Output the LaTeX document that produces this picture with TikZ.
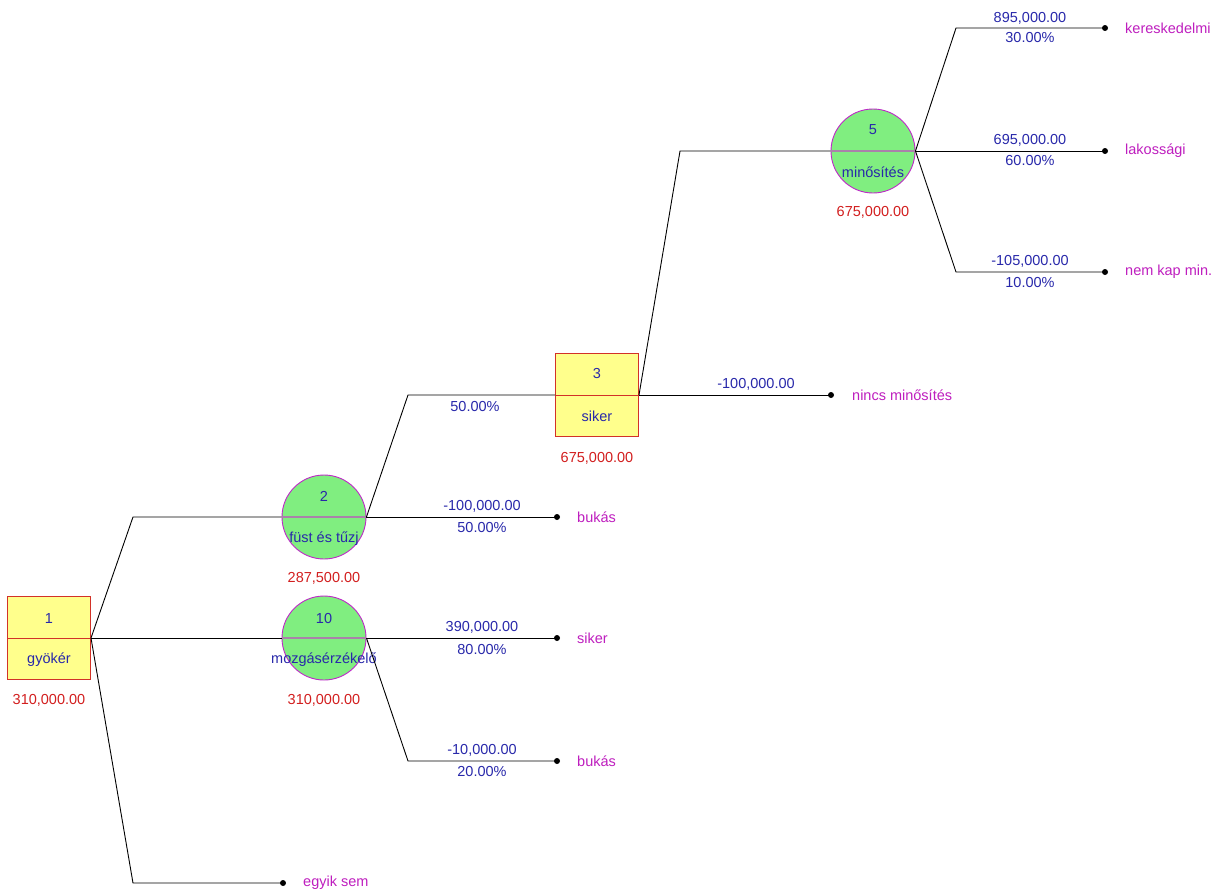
\documentclass[tikz,border=0pt]{standalone}
\usepackage{fontspec}
\setmainfont{Liberation Sans}
\definecolor{boxyellow}{RGB}{255,255,140}
\definecolor{boxred}{RGB}{210,50,40}
\definecolor{circgreen}{RGB}{128,238,128}
\definecolor{circpurple}{RGB}{190,40,200}
\definecolor{divgray}{RGB}{170,130,170}
\definecolor{txtblue}{RGB}{40,40,170}
\definecolor{valred}{RGB}{210,30,30}
\definecolor{termmag}{RGB}{190,30,190}
\begin{document}
\begin{tikzpicture}[x=1pt,y=-1pt,
  every node/.style={font=\fontsize{14.5}{16}\selectfont, inner sep=0pt},
  decbox/.style={rectangle, draw=boxred, fill=boxyellow, line width=1pt, minimum width=83pt, minimum height=83pt},
  chance/.style={circle, draw=circpurple, fill=circgreen, line width=0.9pt, minimum size=84pt},
  lbl/.style={text=txtblue},
  val/.style={text=valred},
  term/.style={text=termmag, anchor=west},
  edge/.style={draw=black, line width=0.9pt},
  dot/.style={fill=black}
]
\useasboundingbox (0,0) rectangle (1217,895);

% nodes
\node[decbox] (n1) at (49,638) {};
\node[chance] (n2) at (324,517) {};
\node[chance] (n10) at (324,638) {};
\node[decbox] (n3) at (597,395) {};
\node[chance] (n5) at (873,151) {};

% dividers
\draw[boxred, line width=1pt] (n1.west) -- (n1.east);
\draw[boxred, line width=1pt] (n3.west) -- (n3.east);
\draw[divgray, line width=1.2pt] (n2.west) -- (n2.east);
\draw[divgray, line width=1.2pt] (n10.west) -- (n10.east);
\draw[divgray, line width=1.2pt] (n5.west) -- (n5.east);

% node texts
\node[lbl] (n1num) at (49,618) {1};
\node[lbl] (n1name) at (49,660) {gyökér};
\node[val] (n1val) at (49,700) {310,000.00};
\node[lbl] (n2num) at (324,496) {2};
\node[lbl] (n2name) at (324,539) {füst és tűzj};
\node[val] (n2val) at (324,578) {287,500.00};
\node[lbl] (n10num) at (324,618) {10};
\node[lbl] (n10name) at (324,660) {mozgásérzékelő};
\node[val] (n10val) at (324,700) {310,000.00};
\node[lbl] (n3num) at (597,373) {3};
\node[lbl] (n3name) at (597,416) {siker};
\node[val] (n3val) at (597,458) {675,000.00};
\node[lbl] (n5num) at (873,130) {5};
\node[lbl] (n5name) at (873,172) {minősítés};
\node[val] (n5val) at (873,212) {675,000.00};

% bend points and terminals
\coordinate (b12) at (133,517);
\coordinate (b1e) at (133,883);
\coordinate (t1e) at (283,883);
\coordinate (b23) at (408,395);
\coordinate (t2b) at (557,517);
\coordinate (t10s) at (557,638);
\coordinate (b10b) at (408,761);
\coordinate (t10b) at (557,761);
\coordinate (b35) at (680,151);
\coordinate (t3n) at (831,395);
\coordinate (b5k) at (956,28);
\coordinate (t5k) at (1105,28);
\coordinate (t5l) at (1105,151);
\coordinate (b5n) at (956,272);
\coordinate (t5n) at (1105,272);

% connectors
\draw[edge] (n1.east) -- (b12) -- (n2.west);
\draw[edge] (n1.east) -- (n10.west);
\draw[edge] (n1.east) -- (b1e) -- (t1e);
\draw[edge] (n2.east) -- (b23) -- (n3.west);
\draw[edge] (n2.east) -- (t2b);
\draw[edge] (n10.east) -- (t10s);
\draw[edge] (n10.east) -- (b10b) -- (t10b);
\draw[edge] (n3.east) -- (b35) -- (n5.west);
\draw[edge] (n3.east) -- (t3n);
\draw[edge] (n5.east) -- (b5k) -- (t5k);
\draw[edge] (n5.east) -- (t5l);
\draw[edge] (n5.east) -- (b5n) -- (t5n);

% terminal dots
\foreach \t in {t1e,t2b,t10s,t10b,t3n,t5k,t5l,t5n}
  \fill[dot] (\t) circle (3pt);

% terminal labels
\node[term] (l1e) at (303,883) {egyik sem};
\node[term] (l2b) at (577,517) {bukás};
\node[term] (l10s) at (577,638) {siker};
\node[term] (l10b) at (577,761) {bukás};
\node[term] (l3n) at (852,395) {nincs minősítés};
\node[term] (l5k) at (1125,28) {kereskedelmi};
\node[term] (l5l) at (1125,151) {lakossági};
\node[term] (l5n) at (1125,272) {nem kap min.};

% branch labels
\node[lbl] (p23) at (475,406) {50.00\%};
\node[lbl] (v2b) at (482,506) {-100,000.00};
\node[lbl] (p2b) at (482,527) {50.00\%};
\node[lbl] (v10s) at (482,627) {390,000.00};
\node[lbl] (p10s) at (482,649) {80.00\%};
\node[lbl] (v10b) at (482,750) {-10,000.00};
\node[lbl] (p10b) at (482,771) {20.00\%};
\node[lbl] (v3n) at (756,384) {-100,000.00};
\node[lbl] (v5k) at (1030,18) {895,000.00};
\node[lbl] (p5k) at (1030,38) {30.00\%};
\node[lbl] (v5l) at (1030,140) {695,000.00};
\node[lbl] (p5l) at (1030,161) {60.00\%};
\node[lbl] (v5n) at (1030,261) {-105,000.00};
\node[lbl] (p5n) at (1030,282) {10.00\%};
\end{tikzpicture}
\end{document}
